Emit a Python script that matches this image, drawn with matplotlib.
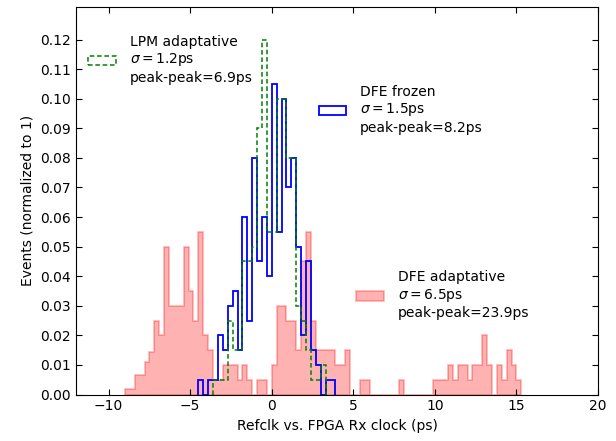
import numpy as np
import matplotlib
matplotlib.use("Agg")
import matplotlib.pyplot as plt

# bin heights (all series share a 0.3 ps grid)
bin_width = 0.3

red_start = -9.0
red_heights = [0.002, 0.002, 0.0065, 0.0065, 0.011, 0.0145, 0.025, 0.020, 0.050, 0.030,
               0.030, 0.030, 0.050, 0.035, 0.025, 0.055, 0.020, 0.015,
               0.005, 0.005, 0.010, 0.010, 0.010, 0.005, 0.010, 0.005, 0.0, 0.005, 0.005, 0.0,
               0.010, 0.030, 0.030, 0.025, 0.025, 0.015, 0.045, 0.055, 0.025, 0.015,
               0.015, 0.015, 0.015, 0.010, 0.010, 0.015,
               0.0, 0.0, 0.005, 0.005, 0.0, 0.0, 0.0, 0.0, 0.0, 0.0, 0.005,
               0.0, 0.0, 0.0, 0.0, 0.0, 0.0,
               0.005, 0.005, 0.005, 0.010, 0.005, 0.010, 0.010, 0.005, 0.010, 0.010,
               0.020, 0.010, 0.0, 0.010, 0.005, 0.015, 0.010, 0.005]

blue_start = -4.5
blue_heights = [0.005, 0.0, 0.005, 0.005, 0.020, 0.015, 0.030, 0.035, 0.015, 0.060,
                0.025, 0.080, 0.045, 0.060, 0.040, 0.105, 0.055, 0.100, 0.070, 0.080,
                0.050, 0.020, 0.045, 0.015, 0.010, 0.0, 0.005, 0.005]

green_start = -3.6
green_heights = [0.005, 0.005, 0.005, 0.025, 0.015, 0.015, 0.045, 0.045, 0.050, 0.090,
                 0.120, 0.055, 0.055, 0.100, 0.100, 0.080, 0.080, 0.030, 0.025, 0.015,
                 0.005, 0.005, 0.010]

red_label = "DFE adaptative\n$\\sigma = 6.5$ps\npeak-peak=23.9ps"
blue_label = "DFE frozen\n$\\sigma = 1.5$ps\npeak-peak=8.2ps"
green_label = "LPM adaptative\n$\\sigma = 1.2$ps\npeak-peak=6.9ps"


def edges_for(start, heights):
    return start + bin_width * np.arange(len(heights) + 1)


def centers_for(start, heights):
    e = edges_for(start, heights)
    return 0.5 * (e[:-1] + e[1:])


fig = plt.figure(figsize=(6.16, 4.41), dpi=100)
ax = fig.add_axes([0.1234, 0.1054, 0.8474, 0.8787])

_, _, red_p = ax.hist(centers_for(red_start, red_heights), bins=edges_for(red_start, red_heights),
                      weights=red_heights, histtype="stepfilled", facecolor=(1, 0, 0, 0.3),
                      edgecolor=(1, 0, 0, 0.3), linewidth=1.2)
_, _, blue_p = ax.hist(centers_for(blue_start, blue_heights), bins=edges_for(blue_start, blue_heights),
                       weights=blue_heights, histtype="step", color="b", linewidth=1.3)
_, _, green_p = ax.hist(centers_for(green_start, green_heights), bins=edges_for(green_start, green_heights),
                        weights=green_heights, histtype="step", color="g", linewidth=1.1,
                        linestyle=(0, (3, 1.8)))

ax.set_xlim(-12, 20)
ax.set_ylim(0, 0.131)
ax.set_yticks(np.arange(0, 0.1201, 0.01))
ax.yaxis.set_major_formatter(matplotlib.ticker.FormatStrFormatter("%.2f"))
ax.tick_params(direction="in", top=True, right=True, length=4, labelsize=10)
ax.set_xlabel("Refclk vs. FPGA Rx clock (ps)", fontsize=10)
ax.set_ylabel("Events (normalized to 1)", fontsize=10)

leg_kw = dict(frameon=False, loc="upper left", borderaxespad=0, fontsize=10,
              labelspacing=0.3, handletextpad=1.0)
l1 = ax.legend([green_p[0]], [green_label], bbox_to_anchor=(0.012, 0.942), **leg_kw)
ax.add_artist(l1)
l2 = ax.legend([blue_p[0]], [blue_label], bbox_to_anchor=(0.454, 0.813), **leg_kw)
ax.add_artist(l2)
ax.legend([red_p[0]], [red_label], bbox_to_anchor=(0.526, 0.335), **leg_kw)

fig.savefig("out.png", dpi=100)
